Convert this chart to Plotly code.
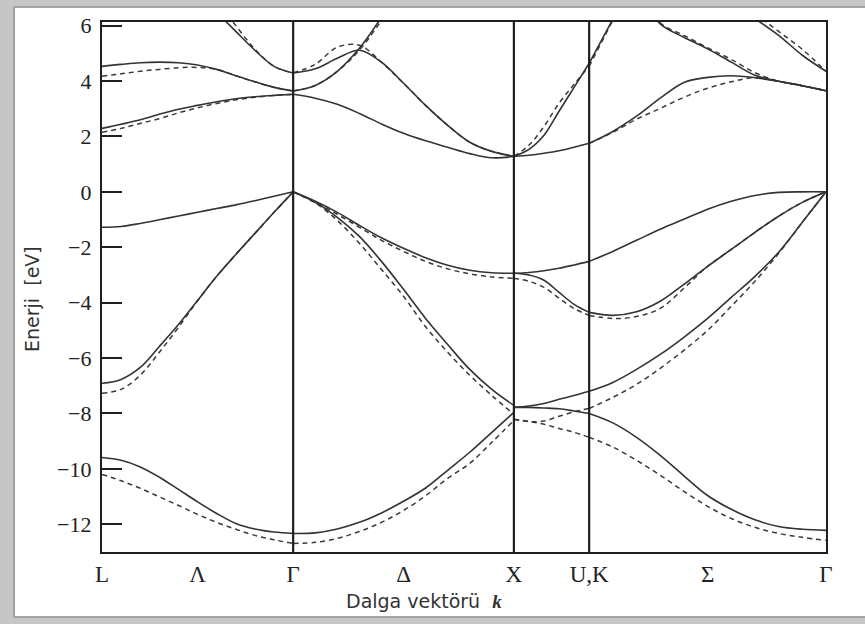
import numpy as np
import plotly.graph_objects as go

# High-symmetry points along the path L - Γ - X - U,K - Γ (units of 2π/a)
kpts = [0.0, 0.866, 1.866, 2.207, 3.280]
tick_labels = ["L", "Λ", "Γ", "Δ", "X", "U,K", "Σ", "Γ"]
y_ticks = [-12, -10, -8, -6, -4, -2, 0, 2, 4, 6]

N = None

# ---- L -> Γ (11 samples) ----
lg_solid = [
    [-9.59, -9.69, -9.93, -10.30, -10.74, -11.19, -11.61, -11.97, -12.17, -12.28, -12.33],
    [-6.91, -6.77, -6.34, -5.58, -4.79, -3.92, -3.05, -2.26, -1.50, -0.74, 0.0],
    [-1.28, -1.25, -1.14, -1.01, -0.87, -0.74, -0.60, -0.47, -0.32, -0.16, 0.0],
    [2.29, 2.44, 2.60, 2.80, 2.98, 3.12, 3.25, 3.36, 3.43, 3.48, 3.52],
    [4.53, 4.60, 4.66, 4.68, 4.66, 4.58, 4.42, 4.19, 3.97, 3.77, 3.64],
    [N, N, N, N, N, N, 6.48, 5.79, 5.11, 4.53, 4.29],
]
lg_dashed = [
    [-10.20, -10.43, -10.70, -11.01, -11.32, -11.64, -11.93, -12.18, -12.40, -12.56, -12.69],
    [-7.27, -7.13, -6.62, -5.79, -4.89, -3.93, -3.05, -2.26, -1.50, -0.74, 0.0],
    [2.15, 2.29, 2.47, 2.64, 2.85, 3.03, 3.19, 3.32, 3.41, 3.48, 3.52],
    [4.17, 4.26, 4.35, 4.42, 4.48, 4.49, 4.42, 4.19, 3.97, 3.77, 3.64],
    [N, N, N, N, N, N, 6.90, 6.00, 5.15, 4.53, 4.29],
]

# ---- Γ -> X (11 samples) ----
gx_solid = [
    [-12.33, -12.31, -12.17, -11.93, -11.59, -11.17, -10.69, -10.05, -9.40, -8.68, -7.96],
    [0.0, -0.38, -0.92, -1.61, -2.51, -3.52, -4.57, -5.51, -6.41, -7.13, -7.71],
    [0.0, -0.34, -0.74, -1.21, -1.66, -2.04, -2.38, -2.65, -2.83, -2.92, -2.94],
    [3.52, 3.38, 3.16, 2.83, 2.45, 2.11, 1.84, 1.61, 1.38, 1.23, 1.28],
    [4.29, 4.44, 4.82, 5.11, 4.68, 3.92, 3.12, 2.40, 1.79, 1.46, 1.28],
    [3.64, 3.84, 4.35, 5.18, 6.30, N, N, N, N, N, N],
]
gx_dashed = [
    [-12.69, -12.65, -12.51, -12.26, -11.93, -11.50, -10.97, -10.34, -9.80, -9.04, -8.25],
    [0.0, -0.40, -1.03, -1.86, -2.80, -3.77, -4.87, -5.79, -6.62, -7.35, -8.03],
    [0.0, -0.38, -0.81, -1.28, -1.75, -2.15, -2.51, -2.78, -2.96, -3.07, -3.12],
    [4.29, 4.60, 5.22, 5.29, 4.68, 3.92, 3.12, 2.40, 1.79, 1.46, 1.28],
    [3.64, 3.84, 4.35, 5.11, 6.19, N, N, N, N, N, N],
]

# ---- X -> U,K (6 samples) ----
xu_solid = [
    [-7.78, -7.78, -7.80, -7.83, -7.91, -8.00],
    [-7.78, -7.73, -7.64, -7.49, -7.35, -7.20],
    [-2.94, -2.91, -2.85, -2.76, -2.64, -2.51],
    [-2.94, -3.00, -3.19, -3.63, -4.06, -4.35],
    [1.28, 1.32, 1.39, 1.48, 1.61, 1.75],
    [1.28, 1.53, 2.04, 2.91, 3.77, 4.64],
]
xu_dashed = [
    [-8.21, -8.29, -8.39, -8.54, -8.68, -8.86],
    [-8.21, -8.29, -8.27, -8.10, -7.94, -7.82],
    [-3.12, -3.23, -3.45, -3.84, -4.21, -4.46],
    [1.28, 1.68, 2.36, 3.20, 3.88, 4.53],
]

# ---- U,K -> Γ (11 samples) ----
kg_solid = [
    [-8.00, -8.34, -8.86, -9.51, -10.25, -10.96, -11.46, -11.84, -12.08, -12.18, -12.22],
    [-7.20, -6.88, -6.41, -5.87, -5.25, -4.57, -3.81, -3.05, -2.18, -1.10, 0.0],
    [-2.51, -2.15, -1.75, -1.35, -0.99, -0.63, -0.34, -0.13, -0.02, 0.0, 0.0],
    [-4.35, -4.46, -4.33, -3.95, -3.34, -2.69, -2.08, -1.46, -0.88, -0.38, 0.0],
    [1.75, 2.18, 2.73, 3.38, 3.95, 4.13, 4.19, 4.12, 3.99, 3.83, 3.65],
    [4.64, 6.23, N, N, N, N, N, N, N, N, N],
    [N, N, 7.30, 6.06, 5.58, 5.16, 4.68, 4.21, 3.99, 3.83, 3.65],
    [N, N, N, N, N, N, 6.80, 6.25, 5.65, 4.93, 4.35],
]
kg_dashed = [
    [-8.86, -9.21, -9.69, -10.23, -10.81, -11.35, -11.79, -12.11, -12.33, -12.47, -12.58],
    [-7.82, -7.42, -6.95, -6.37, -5.72, -5.00, -4.13, -3.23, -2.22, -1.10, 0.0],
    [-4.46, -4.57, -4.50, -4.21, -3.48, -2.69, -2.08, -1.46, -0.88, -0.38, 0.0],
    [1.75, 2.15, 2.62, 3.01, 3.41, 3.74, 3.97, 4.12, 3.99, 3.83, 3.65],
    [4.53, 6.20, N, N, N, N, N, N, N, N, N],
    [N, N, 7.50, 6.10, 5.65, 5.20, 4.78, 4.30, 3.99, 3.83, 3.65],
    [N, N, N, N, N, N, 6.90, 6.41, 5.79, 5.14, 4.35],
]

segments = [
    (kpts[0], kpts[1], lg_solid, lg_dashed),
    (kpts[1], kpts[2], gx_solid, gx_dashed),
    (kpts[2], kpts[3], xu_solid, xu_dashed),
    (kpts[3], kpts[4], kg_solid, kg_dashed),
]

fig = go.Figure()

for k0, k1, solid, dashed in segments:
    for band in dashed:
        k = np.linspace(k0, k1, len(band))
        fig.add_trace(go.Scatter(
            x=k, y=band, mode="lines", hoverinfo="skip",
            line=dict(color="#3a3a3a", width=1.5, dash="5px,4px",
                      shape="spline", smoothing=1.0)))
for k0, k1, solid, dashed in segments:
    for band in solid:
        k = np.linspace(k0, k1, len(band))
        fig.add_trace(go.Scatter(
            x=k, y=band, mode="lines", hoverinfo="skip",
            line=dict(color="#333333", width=1.6, shape="spline", smoothing=1.0)))

# vertical lines at the interior symmetry points
for kv in kpts[1:4]:
    fig.add_shape(type="line", xref="x", yref="paper", x0=kv, x1=kv, y0=0, y1=1,
                  line=dict(color="#1f1f1f", width=2.2), layer="above")

# label positions: symmetry points and midpoints of the lines between them
tick_pos = [kpts[0], (kpts[0] + kpts[1]) / 2, kpts[1], (kpts[1] + kpts[2]) / 2,
            kpts[2], kpts[3], (kpts[3] + kpts[4]) / 2, kpts[4]]

# grey page border along the top, left and bottom edges
border = dict(type="rect", xref="paper", yref="paper", layer="below",
              fillcolor="#c6c6c6", line=dict(width=0))
fig.add_shape(**border, x0=-0.16, x1=1.1, y0=1.0283, y1=1.08)
fig.add_shape(**border, x0=-0.16, x1=-0.1215, y0=-0.16, y1=1.08)
fig.add_shape(**border, x0=-0.16, x1=1.1, y0=-0.16, y1=-0.1226)
# darker inner edge of the border
edge = dict(type="line", xref="paper", yref="paper", layer="below",
            line=dict(color="#a2a2a2", width=2))
fig.add_shape(**edge, x0=-0.1215, x1=1.1, y0=1.0283, y1=1.0283)
fig.add_shape(**edge, x0=-0.1215, x1=-0.1215, y0=-0.1226, y1=1.0283)
fig.add_shape(**edge, x0=-0.1215, x1=1.1, y0=-0.1226, y1=-0.1226)

fig.update_layout(
    width=865, height=624,
    margin=dict(l=102, r=39, t=22, b=72),
    paper_bgcolor="white",
    plot_bgcolor="white",
    showlegend=False,
    xaxis=dict(
        range=[kpts[0], kpts[4]], tickvals=tick_pos, ticktext=tick_labels,
        ticks="", showgrid=False, zeroline=False,
        showline=True, linewidth=2.2, linecolor="#1f1f1f", mirror=True,
        tickfont=dict(family="Liberation Serif", size=23, color="#222"),
        ticklabelstandoff=0,
    ),
    yaxis=dict(
        range=[-13.0, 6.13], tickvals=y_ticks,
        ticks="inside", ticklen=20, tickwidth=2, tickcolor="#1f1f1f",
        showgrid=False, zeroline=False,
        showline=True, linewidth=2.2, linecolor="#1f1f1f", mirror=True,
        tickfont=dict(family="Liberation Serif", size=22, color="#222"),
        ticklabelstandoff=4,
    ),
    annotations=[
        dict(text="Dalga vektörü&nbsp; <span style='font-family:Liberation Serif'><b><i>k</i></b></span>",
             xref="paper", yref="paper", x=0.445, y=-0.093,
             showarrow=False, xanchor="center", yanchor="middle",
             font=dict(family="DejaVu Sans", size=19, color="#333")),
        dict(text="Enerji&nbsp; [eV]", textangle=-90,
             xref="paper", yref="paper", x=-0.097, y=0.477,
             showarrow=False, xanchor="center", yanchor="middle",
             font=dict(family="DejaVu Sans", size=19, color="#333")),
    ],
)

fig.write_html("out.html")
